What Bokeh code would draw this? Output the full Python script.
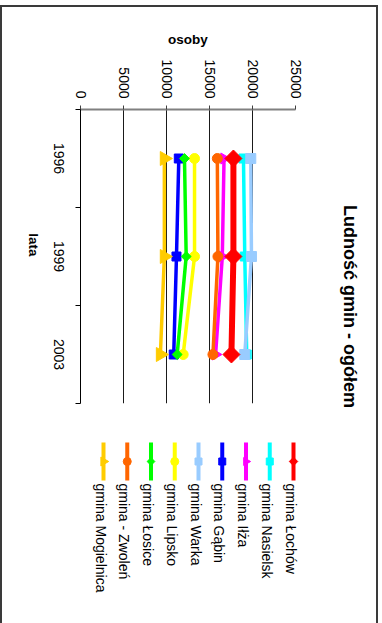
import math
from bokeh.plotting import figure
from bokeh.layouts import row, column
from bokeh.models import Range1d, FixedTicker, ColumnDataSource
from bokeh.core.properties import value
from bokeh.embed import file_html
from bokeh.resources import INLINE

# ---------------- data ----------------
years = ["1996", "1999", "2003"]
series_names = ["gmina Łochów", "gmina Nasielsk", "gmina Iłża", "gmina Gąbin",
                "gmina Warka", "gmina Lipsko", "gmina Łosice", "gmina - Zwoleń",
                "gmina Mogielnica"]
lochow = [17780, 17780, 17550]
nasielsk = [18950, 19100, 19330]
ilza = [16690, 16490, 15710]
gabin = [11430, 11160, 10840]
warka = [19800, 19880, 19100]
lipsko = [13260, 13260, 11940]
losice = [12090, 12290, 11240]
zwolen = [15910, 15980, 15400]
mogielnica = [9750, 9750, 9290]
series_values = [lochow, nasielsk, ilza, gabin, warka, lipsko, losice, zwolen, mogielnica]
value_ticks = [0, 5000, 10000, 15000, 20000, 25000]
title_text = "Ludność gmin - ogółem"
x_title = "osoby"
y_title = "lata"

# ---------------- styles ----------------
FONT = "Liberation Sans"
colors = ["#FF0000", "#00FFFF", "#FF00FF", "#0000FF", "#99CCFF",
          "#FFFF00", "#00FF00", "#FF6600", "#FFCC00"]
markers = ["square", "square", "triangle", "square", "square",
           "circle", "square", "circle", "triangle"]
m_angles = [math.pi / 4, 0, -math.pi / 2, 0, 0, 0, math.pi / 4, 0, -math.pi / 2]
m_sizes = [12, 9, 11, 9, 10, 10, 7, 10, 14]
l_widths = [6, 3.5, 3.5, 3.5, 3.5, 3.5, 3.5, 3.5, 3.5]
leg_sizes = [6, 7, 8, 7, 7, 8, 5.5, 8, 9]

BL, BR = 78, 12          # left / right borders shared by main plot and legend
FW, FH = 215, 294        # plot frame
TOP, GAP = 102, 22
LH = 198
COLW = 316
TW = 374 - COLW
TH = TOP + FH + GAP + LH

# ---------------- main plot ----------------
main = figure(frame_width=FW, frame_height=FH,
              min_border_left=BL, min_border_right=BR,
              min_border_top=TOP, min_border_bottom=GAP,
              x_range=Range1d(0, 25000), y_range=Range1d(len(years), 0),
              x_axis_location="above",
              toolbar_location=None, output_backend="svg",
              outline_line_color=None)

ypos = [i + 0.5 for i in range(len(years))]
# rotated labels are anchored at their end: shift anchor by half a label length
label_shift = 15.6 / (FH / len(years))
lpos = [p + label_shift for p in ypos]

main.ygrid.visible = False
main.xgrid.ticker = FixedTicker(ticks=value_ticks)
main.xgrid.grid_line_color = "#1a1a1a"
main.xgrid.grid_line_width = 1

xa = main.xaxis[0]
xa.ticker = FixedTicker(ticks=value_ticks)
xa.major_label_overrides = {v: str(v) for v in value_ticks}
xa.major_label_orientation = -math.pi / 2
xa.major_label_text_font = FONT
xa.major_label_text_font_size = "14px"
xa.major_label_text_color = "black"
xa.major_label_standoff = 7
xa.axis_line_color = "#808080"
xa.axis_line_width = 2
xa.major_tick_out = 4
xa.major_tick_in = 0
xa.major_tick_line_color = "#404040"
xa.minor_tick_line_color = None
xa.axis_label = x_title
xa.axis_label_text_font = FONT
xa.axis_label_text_font_style = "bold"
xa.axis_label_text_font_size = "13.5px"
xa.axis_label_text_color = "black"
xa.axis_label_standoff = 10

ya = main.yaxis[0]
ya.ticker = FixedTicker(ticks=lpos, minor_ticks=list(range(len(years) + 1)))
ya.major_label_overrides = {p: y for p, y in zip(lpos, years)}
ya.major_tick_line_color = None
ya.major_tick_out = 5
ya.major_tick_in = 0
ya.minor_tick_out = 5
ya.minor_tick_in = 0
ya.minor_tick_line_color = "black"
ya.axis_line_color = "black"
ya.major_label_orientation = -math.pi / 2
ya.major_label_text_font = FONT
ya.major_label_text_font_size = "14px"
ya.major_label_text_color = "black"
ya.major_label_standoff = 17
ya.axis_label = y_title
ya.axis_label_text_font = FONT
ya.axis_label_text_font_style = "bold"
ya.axis_label_text_font_size = "13.5px"
ya.axis_label_text_color = "black"
ya.axis_label_standoff = 12
try:
    ya.axis_label_orientation = -math.pi / 2
except AttributeError:
    pass

order = list(range(1, len(series_names))) + [0]
for i in order:
    src = ColumnDataSource(dict(x=series_values[i], y=ypos))
    main.line("x", "y", source=src, line_color=colors[i], line_width=l_widths[i])
    main.scatter("x", "y", source=src, marker=markers[i], size=m_sizes[i],
                 angle=m_angles[i], fill_color=colors[i], line_color=colors[i])

# ---------------- legend ----------------
LFW = COLW - BL - BR
leg = figure(frame_width=LFW, frame_height=LH, x_range=Range1d(0, LFW), y_range=Range1d(LH, 0),
             x_axis_type=None, y_axis_type=None,
             min_border_left=BL, min_border_right=BR, min_border_top=0, min_border_bottom=0,
             toolbar_location=None, output_backend="svg", outline_line_color=None)
n = len(series_names)
lx = [213 - 23.75 * i for i in range(n)]
lsrc = ColumnDataSource(dict(x=lx, y0=[17] * n, y1=[55] * n, ym=[36] * n,
                             tx=[v - 3 for v in lx], ty=[58] * n,
                             name=series_names, color=colors, marker=markers,
                             angle=m_angles, size=leg_sizes))
leg.segment(x0="x", y0="y0", x1="x", y1="y1", source=lsrc, line_color="color", line_width=4)
leg.scatter(x="x", y="ym", source=lsrc, marker="marker", angle="angle", size="size",
            fill_color="color", line_color="color")
leg.text(x="tx", y="ty", text="name", source=lsrc, angle=-math.pi / 2,
         text_font=value(FONT), text_font_size="14px", text_align="left",
         text_baseline="middle", text_color="black")

# ---------------- title ----------------
tfig = figure(frame_width=TW, frame_height=TH, x_range=Range1d(0, TW), y_range=Range1d(TH, 0),
              x_axis_type=None, y_axis_type=None, min_border=0,
              toolbar_location=None, output_backend="svg", outline_line_color=None)
tfig.text(x=[31], y=[299], text=[title_text], angle=-math.pi / 2,
          text_font=value(FONT), text_font_style="bold", text_font_size="18px",
          text_align="center", text_baseline="middle", text_color="black")

layout = row(column(main, leg), tfig,
             styles={"border": "2px solid #3a3a3a", "border-bottom": "none",
                     "margin-top": "5px"})

open("out.html", "w").write(file_html(layout, INLINE))
